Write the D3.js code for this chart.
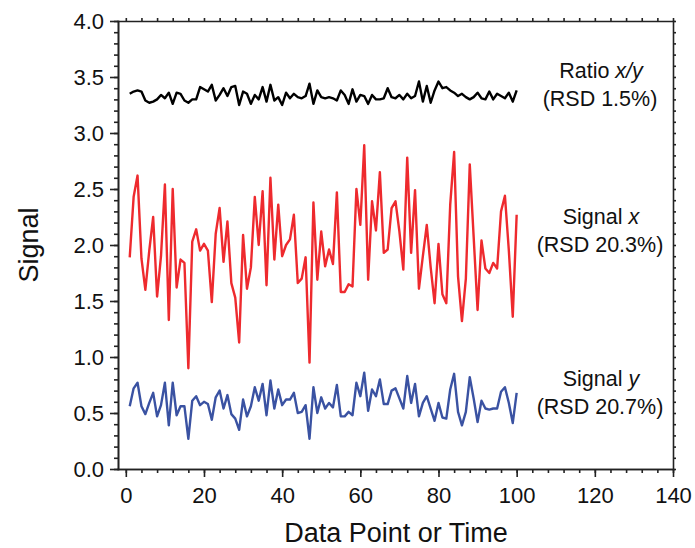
<!DOCTYPE html>
<meta charset="utf-8">
<head>
<style>
body { margin: 0; background: #fff; }
text { font-family: "Liberation Sans", Arial, sans-serif; fill: #111; }
.axis path, .axis line { stroke: #222; stroke-width: 1.6px; }
.axis text { font-size: 22px; }
.note { font-size: 21.5px; }
</style>
</head>
<body>
<div id="my_dataviz"></div>
</body>

<script src="https://d3js.org/d3.v7.min.js"></script>
<script>

// x positions (data point number)
var points = d3.range(1, 101);

// Signal x (red)
var signalX = [1.89, 2.43, 2.62, 1.88, 1.60, 1.95, 2.25, 1.54, 1.90, 2.54,
               1.33, 2.50, 1.62, 1.87, 1.84, 0.90, 2.03, 2.14, 1.95, 2.01,
               1.95, 1.49, 2.10, 2.33, 1.85, 2.21, 1.66, 1.53, 1.13, 2.09,
               1.61, 1.80, 2.43, 2.00, 2.48, 1.64, 2.60, 1.87, 2.36, 1.90,
               2.00, 2.05, 2.27, 1.66, 1.70, 1.89, 0.95, 2.38, 1.69, 2.12,
               1.81, 1.96, 1.83, 2.47, 1.58, 1.58, 1.65, 1.63, 2.50, 2.18,
               2.89, 1.69, 2.39, 2.13, 2.65, 1.93, 1.96, 2.33, 2.39, 2.12,
               1.78, 2.78, 1.93, 2.49, 1.61, 1.90, 2.18, 1.80, 1.48, 2.01,
               1.56, 1.48, 2.36, 2.83, 1.72, 1.32, 1.70, 2.72, 2.07, 1.42,
               2.04, 1.79, 1.75, 1.84, 1.79, 2.30, 2.44, 1.95, 1.36, 2.27];

// Signal y (blue)
var signalY = [0.56, 0.72, 0.77, 0.56, 0.49, 0.59, 0.68, 0.47, 0.57, 0.77,
               0.39, 0.77, 0.48, 0.56, 0.56, 0.27, 0.61, 0.65, 0.57, 0.60,
               0.58, 0.44, 0.64, 0.70, 0.54, 0.66, 0.49, 0.45, 0.35, 0.62,
               0.47, 0.56, 0.73, 0.61, 0.76, 0.48, 0.79, 0.54, 0.71, 0.57,
               0.62, 0.62, 0.68, 0.50, 0.51, 0.57, 0.27, 0.73, 0.50, 0.64,
               0.54, 0.59, 0.55, 0.75, 0.47, 0.47, 0.51, 0.48, 0.77, 0.65,
               0.86, 0.52, 0.71, 0.65, 0.80, 0.58, 0.58, 0.70, 0.72, 0.63,
               0.54, 0.83, 0.59, 0.76, 0.47, 0.59, 0.65, 0.54, 0.43, 0.59,
               0.46, 0.45, 0.71, 0.85, 0.51, 0.39, 0.51, 0.82, 0.63, 0.42,
               0.61, 0.54, 0.53, 0.54, 0.54, 0.69, 0.73, 0.59, 0.41, 0.68];

// Ratio x/y (black)
var ratio = [3.35, 3.37, 3.38, 3.37, 3.29, 3.27, 3.28, 3.30, 3.34, 3.31,
             3.36, 3.26, 3.36, 3.35, 3.29, 3.27, 3.30, 3.30, 3.41, 3.39,
             3.37, 3.43, 3.29, 3.34, 3.40, 3.33, 3.41, 3.42, 3.25, 3.37,
             3.35, 3.26, 3.34, 3.30, 3.41, 3.28, 3.43, 3.29, 3.32, 3.25,
             3.36, 3.31, 3.35, 3.32, 3.31, 3.33, 3.44, 3.26, 3.38, 3.32,
             3.31, 3.32, 3.31, 3.29, 3.38, 3.34, 3.26, 3.39, 3.28, 3.34,
             3.33, 3.26, 3.34, 3.30, 3.30, 3.31, 3.40, 3.32, 3.31, 3.34,
             3.30, 3.35, 3.31, 3.33, 3.46, 3.28, 3.42, 3.27, 3.38, 3.46,
             3.40, 3.41, 3.38, 3.36, 3.33, 3.35, 3.32, 3.30, 3.32, 3.36,
             3.31, 3.30, 3.37, 3.30, 3.35, 3.33, 3.31, 3.36, 3.28, 3.38];

var yMajor = [0, 0.5, 1, 1.5, 2, 2.5, 3, 3.5, 4];
var xMajor = [0, 20, 40, 60, 80, 100, 120, 140];

var notes = [
  {y: 3.5, line1: "Ratio ", ital: "x/y", line2: "(RSD 1.5%)"},
  {y: 2.2, line1: "Signal ", ital: "x", line2: "(RSD 20.3%)"},
  {y: 0.75, line1: "Signal ", ital: "y", line2: "(RSD 20.7%)"}
];

var width = 695, height = 548;

var svg = d3.select("#my_dataviz")
  .append("svg")
    .attr("width", width)
    .attr("height", height);

var x = d3.scaleLinear().domain([-2, 140]).range([118, 673]);
var y = d3.scaleLinear().domain([0, 4]).range([469, 21]);

// minor ticks
var yMinor = d3.range(0, 41).map(function(d) { return d / 10; });
var xMinor = d3.range(0, 36).map(function(d) { return d * 4; });

svg.append("g").attr("class", "axis")
  .attr("transform", "translate(118,0)")
  .call(d3.axisLeft(y).tickValues(yMinor).tickSize(4).tickFormat("").tickSizeOuter(0));
svg.append("g").attr("class", "axis")
  .attr("transform", "translate(118,0)")
  .call(d3.axisLeft(y).tickValues(yMajor).tickSize(8).tickPadding(6)
        .tickFormat(d3.format(".1f")).tickSizeOuter(0));

svg.append("g").attr("class", "axis")
  .attr("transform", "translate(0,469)")
  .call(d3.axisBottom(x).tickValues(xMinor).tickSize(4).tickFormat("").tickSizeOuter(0));
svg.append("g").attr("class", "axis")
  .attr("transform", "translate(0,469)")
  .call(d3.axisBottom(x).tickValues(xMajor).tickSize(8).tickPadding(10)
        .tickFormat(d3.format("d")).tickSizeOuter(0));

// mirrored ticks on top and right
svg.append("g").attr("class", "axis")
  .attr("transform", "translate(0,21)")
  .call(d3.axisTop(x).tickValues(xMinor).tickSize(3).tickFormat("").tickSizeOuter(0));
svg.append("g").attr("class", "axis")
  .attr("transform", "translate(673,0)")
  .call(d3.axisRight(y).tickValues(yMinor).tickSize(3).tickFormat("").tickSizeOuter(0));

svg.selectAll(".axis path").attr("stroke-linecap", "square");

// lines
var series = [
  {values: ratio, color: "#000000"},
  {values: signalX, color: "#ee2a2e"},
  {values: signalY, color: "#3a52a2"}
];

var line = d3.line()
  .x(function(d, i) { return x(points[i]); })
  .y(function(d) { return y(d); });

svg.selectAll(".series")
  .data(series)
  .enter()
  .append("path")
    .attr("class", "series")
    .attr("d", function(d) { return line(d.values); })
    .attr("fill", "none")
    .attr("stroke", function(d) { return d.color; })
    .attr("stroke-width", 2.4)
    .attr("stroke-linejoin", "round");

// annotations
var note = svg.selectAll(".note")
  .data(notes)
  .enter()
  .append("g")
    .attr("class", "note");

var l1 = note.append("text")
  .attr("x", 601)
  .attr("y", function(d) { return y(d.y) + 1; })
  .attr("text-anchor", "middle");
l1.append("tspan").text(function(d) { return d.line1; });
l1.append("tspan").attr("font-style", "italic").text(function(d) { return d.ital; });

note.append("text")
  .attr("x", 600)
  .attr("y", function(d) { return y(d.y) + 29; })
  .attr("text-anchor", "middle")
  .text(function(d) { return d.line2; });

// axis titles
svg.append("text")
  .attr("x", 396)
  .attr("y", 542)
  .attr("text-anchor", "middle")
  .style("font-size", "27px")
  .text("Data Point or Time");

svg.append("text")
  .attr("transform", "translate(38,245) rotate(-90)")
  .attr("text-anchor", "middle")
  .style("font-size", "27px")
  .text("Signal");

</script>
